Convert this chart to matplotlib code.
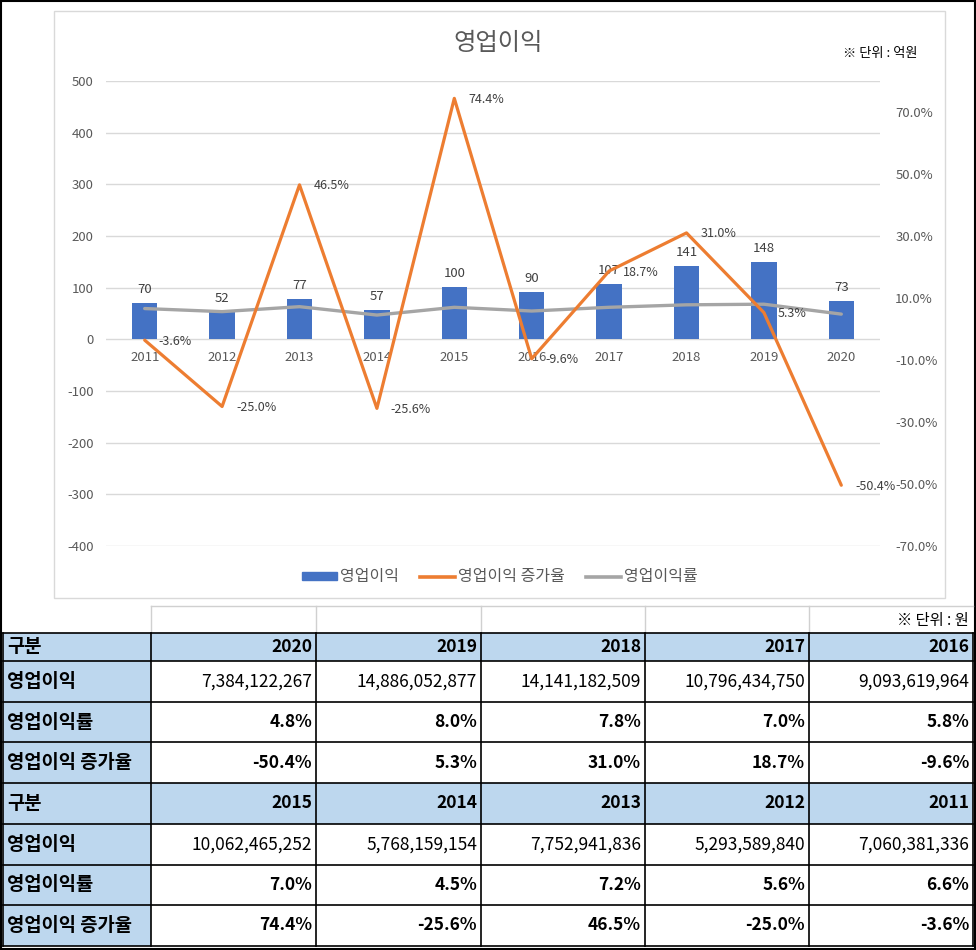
import matplotlib
matplotlib.use("Agg")
import matplotlib.pyplot as plt
from matplotlib.patches import Rectangle, Patch
from matplotlib.lines import Line2D

plt.rcParams['font.family'] = ['Noto Sans CJK KR', 'DejaVu Sans']

# ---------------- data ----------------
years = ['2011', '2012', '2013', '2014', '2015', '2016', '2017', '2018', '2019', '2020']
profit_won = [7060381336, 5293589840, 7752941836, 5768159154, 10062465252,
              9093619964, 10796434750, 14141182509, 14886052877, 7384122267]
margin_pct = [6.6, 5.6, 7.2, 4.5, 7.0, 5.8, 7.0, 7.8, 8.0, 4.8]
growth_pct = [-3.6, -25.0, 46.5, -25.6, 74.4, -9.6, 18.7, 31.0, 5.3, -50.4]
left_ticks = [-400, -300, -200, -100, 0, 100, 200, 300, 400, 500]
right_ticks = [-70, -50, -30, -10, 10, 30, 50, 70]

table_rows = ['영업이익', '영업이익률', '영업이익 증가율']
table_year_groups = [['2020', '2019', '2018', '2017', '2016'],
                     ['2015', '2014', '2013', '2012', '2011']]

profit_eok = [v / 1e8 for v in profit_won]

# ---------------- figure ----------------
W, H = 976, 950
fig = plt.figure(figsize=(W / 100, H / 100), dpi=100)
fig.patch.set_facecolor('white')

# background / table axes in pixel coordinates
tax = fig.add_axes([0, 0, 1, 1], zorder=0)
tax.set_xlim(0, W)
tax.set_ylim(H, 0)
tax.axis('off')

# outer border and chart border
tax.add_patch(Rectangle((1, 1), W - 2.5, H - 2.5, fill=False, ec='black', lw=1.5))
tax.add_patch(Rectangle((54, 11), 891, 587, fill=False, ec='#D9D9D9', lw=1))

# ---------------- chart ----------------
ax_l, ax_r, ax_t, ax_b = 106, 880, 81, 546
ax = fig.add_axes([ax_l / W, 1 - ax_b / H, (ax_r - ax_l) / W, (ax_b - ax_t) / H], zorder=2)
ax.set_facecolor('none')
x = list(range(len(years)))
ax.set_xlim(-0.5, len(years) - 0.5)
ax.set_ylim(-400, 500)
ax.set_yticks(left_ticks)
ax.set_yticklabels([str(t) for t in left_ticks])
ax.grid(axis='y', color='#D9D9D9', lw=1)
ax.set_axisbelow(True)
for s in ax.spines.values():
    s.set_visible(False)
ax.tick_params(axis='y', length=0, pad=9, labelsize=9.5, labelcolor='#595959')
ax.set_xticks([])

bars = ax.bar(x, profit_eok, width=0.33, color='#4472C4', zorder=2)
for xi, v in zip(x, profit_eok):
    ax.annotate(str(int(v)), (xi, v), xytext=(0, 7), textcoords='offset pixels',
                ha='center', va='bottom', fontsize=9.5, color='#404040')
for xi, yr in zip(x, years):
    ax.annotate(yr, (xi, 0), xytext=(0, -18), textcoords='offset pixels',
                ha='center', va='center', fontsize=9.5, color='#595959')

ax2 = ax.twinx()
ax2.set_facecolor('none')
ax2.set_ylim(-70, 80)
ax2.set_yticks(right_ticks)
ax2.set_yticklabels([f'{t:.1f}%' for t in right_ticks])
for s in ax2.spines.values():
    s.set_visible(False)
ax2.tick_params(axis='y', length=0, pad=11, labelsize=9.5, labelcolor='#595959')
ax2.plot(x, margin_pct, color='#A5A5A5', lw=2.4, solid_capstyle='round', zorder=3)
ax2.plot(x, growth_pct, color='#ED7D31', lw=2.3, solid_capstyle='round', zorder=4)
for xi, g in zip(x, growth_pct):
    ax2.annotate(f'{g:.1f}%', (xi, g), xytext=(14, -1), textcoords='offset pixels',
                 ha='left', va='center', fontsize=9, color='#404040')

fig.text(498 / W, 1 - 43 / H, '영업이익', ha='center', va='center',
         fontsize=17.5, color='#595959')
fig.text(880 / W, 1 - 53 / H, '※ 단위 : 억원', ha='center', va='center',
         fontsize=9.5, color='black')

handles = [Patch(color='#4472C4'),
           Line2D([], [], color='#ED7D31', lw=2.6),
           Line2D([], [], color='#A5A5A5', lw=2.6)]
fig.legend(handles, ['영업이익', '영업이익 증가율', '영업이익률'], loc='center',
           bbox_to_anchor=(500 / W, 1 - 577 / H), ncol=3, frameon=False,
           fontsize=11.5, labelcolor='#595959', handlelength=2.2, handleheight=0.4,
           handletextpad=0.2, columnspacing=1.3)

# ---------------- table ----------------
col_x = [3, 151, 316, 481, 645, 809, 973]
empty_top = 606
row_y = [633, 661, 702, 742, 783, 824, 865, 905, 946]
hdr_fill = '#BDD7EE'

# top empty row with light grid
tax.plot([col_x[1], col_x[-1]], [empty_top, empty_top], color='#D0D0D0', lw=1)
for cx in col_x[1:-1]:
    tax.plot([cx, cx], [empty_top, row_y[0]], color='#D0D0D0', lw=1)
tax.text(col_x[-1] - 4, (empty_top + row_y[0]) / 2 + 1, '※ 단위 : 원', ha='right',
         va='center', fontsize=11, color='black')

all_years = [str(y) for y in years]
for g, grp in enumerate(table_year_groups):
    base = g * 4
    # header row
    y0, y1 = row_y[base], row_y[base + 1]
    tax.add_patch(Rectangle((col_x[0], y0), col_x[-1] - col_x[0], y1 - y0,
                            fc=hdr_fill, ec='none'))
    tax.text(col_x[0] + 4, (y0 + y1) / 2, '구분', ha='left', va='center',
             fontsize=13.5, fontweight='bold', color='black')
    for c, yr in enumerate(grp):
        tax.text(col_x[c + 2] - 4, (y0 + y1) / 2, yr, ha='right', va='center',
                 fontsize=12.5, fontweight='bold', color='black')
    for r, label in enumerate(table_rows):
        y0, y1 = row_y[base + 1 + r], row_y[base + 2 + r]
        tax.add_patch(Rectangle((col_x[0], y0), col_x[1] - col_x[0], y1 - y0,
                                fc=hdr_fill, ec='none'))
        tax.text(col_x[0] + 4, (y0 + y1) / 2, label, ha='left', va='center',
                 fontsize=13.5, fontweight='bold', color='black')
        for c, yr in enumerate(grp):
            i = all_years.index(yr)
            if r == 0:
                txt, fw = f'{profit_won[i]:,}', 'normal'
            elif r == 1:
                txt, fw = f'{margin_pct[i]:.1f}%', 'bold'
            else:
                txt, fw = f'{growth_pct[i]:.1f}%', 'bold'
            tax.text(col_x[c + 2] - 4, (y0 + y1) / 2, txt, ha='right', va='center',
                     fontsize=12.5, fontweight=fw, color='black')

# table grid lines
for ry in row_y:
    tax.plot([col_x[0], col_x[-1]], [ry, ry], color='black', lw=1.2)
for cx in col_x:
    tax.plot([cx, cx], [row_y[0], row_y[-1]], color='black', lw=1.2)

fig.savefig('out.png', dpi=100, facecolor='white')
